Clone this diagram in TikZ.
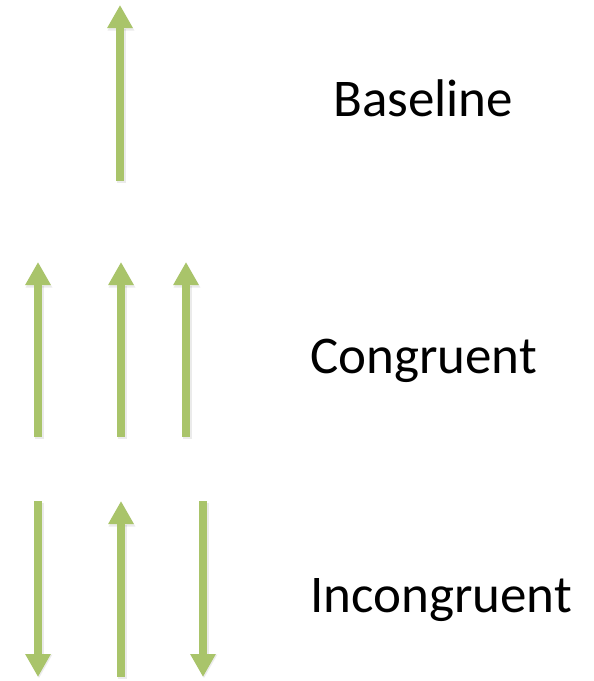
\documentclass[tikz,border=0pt]{standalone}
\usepackage{fontspec}
\setmainfont{Carlito}
\usetikzlibrary{arrows.meta}
\definecolor{arrgreen}{RGB}{169,196,106}
\tikzset{
  garrow/.style={draw=arrgreen, line width=8pt, -{Triangle[width=24pt,length=23pt]}},
  gshadow/.style={draw=black, opacity=0.08, line width=9pt, -{Triangle[width=25pt,length=24pt]}},
  lbl/.style={font=\fontsize{53}{60}\selectfont, anchor=base west, inner sep=0pt, text=black}
}
\begin{document}
\begin{tikzpicture}[x=1pt,y=-1pt]
\useasboundingbox (0,0) rectangle (594,681);
% coordinates
\coordinate (b1s) at (120,181); \coordinate (b1e) at (120,5);
\coordinate (c1s) at (38,437); \coordinate (c1e) at (38,262);
\coordinate (c2s) at (121,437); \coordinate (c2e) at (121,262);
\coordinate (c3s) at (186,437); \coordinate (c3e) at (186,262);
\coordinate (i1s) at (38,501); \coordinate (i1e) at (38,677);
\coordinate (i2s) at (121,677); \coordinate (i2e) at (121,501);
\coordinate (i3s) at (203,501); \coordinate (i3e) at (203,677);
% shadows
\foreach \a/\b in {b1s/b1e,c1s/c1e,c2s/c2e,c3s/c3e,i1s/i1e,i2s/i2e,i3s/i3e}{
  \draw[gshadow, transform canvas={shift={(1pt,-1.5pt)}}] (\a) -- (\b);
}
% arrows
\foreach \a/\b in {b1s/b1e,c1s/c1e,c2s/c2e,c3s/c3e,i1s/i1e,i2s/i2e,i3s/i3e}{
  \draw[garrow] (\a) -- (\b);
}
% labels
\node[lbl] (tb) at (333,116) {Baseline};
\node[lbl] (tc) at (310,373) {Congruent};
\node[lbl] (ti) at (310,612) {Incongruent};
\end{tikzpicture}
\end{document}
